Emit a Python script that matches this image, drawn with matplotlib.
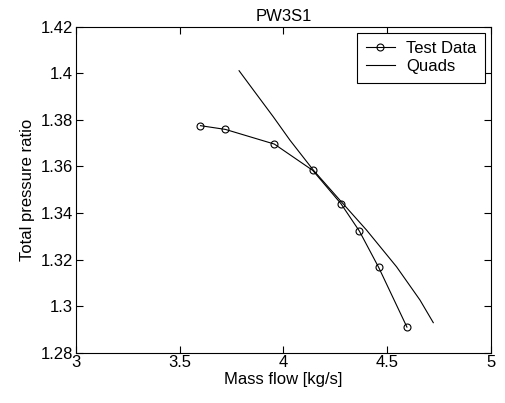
import matplotlib
matplotlib.use('Agg')
import matplotlib.pyplot as plt

plt.rcParams['font.family'] = ['Liberation Sans', 'DejaVu Sans']

# Dados
test_flow = [3.60, 3.72, 3.956, 4.141, 4.277, 4.366, 4.459, 4.595]
test_pr = [1.3775, 1.3759, 1.3696, 1.3583, 1.3440, 1.3322, 1.3166, 1.2910]

quad_flow = [3.786, 3.855, 3.951, 4.031, 4.144, 4.272, 4.400, 4.545, 4.658, 4.722]
quad_pr = [1.4011, 1.3928, 1.3813, 1.3713, 1.3584, 1.3455, 1.3327, 1.3169, 1.3026, 1.2929]

xticks = [3, 3.5, 4, 4.5, 5]
yticks = [1.28, 1.3, 1.32, 1.34, 1.36, 1.38, 1.4, 1.42]

fig = plt.figure(figsize=(5.05, 4.03), dpi=100)
ax = fig.add_axes([0.1505, 0.1248, 0.8217, 0.8089])

ax.plot(test_flow, test_pr, color='black', linewidth=0.8, marker='o',
        markersize=5, markerfacecolor='none', markeredgewidth=0.8, label='Test Data')
ax.plot(quad_flow, quad_pr, color='black', linewidth=0.8, label='Quads')

ax.set_xlim(3, 5)
ax.set_ylim(1.28, 1.42)
ax.set_xticks(xticks)
ax.set_xticklabels(['3', '3.5', '4', '4.5', '5'])
ax.set_yticks(yticks)
ax.set_yticklabels(['1.28', '1.3', '1.32', '1.34', '1.36', '1.38', '1.4', '1.42'])
ax.tick_params(direction='in', length=5, width=0.8, top=True, right=True,
               labelsize=12, pad=2)
for s in ax.spines.values():
    s.set_linewidth(0.8)

ax.set_xlabel('Mass flow [kg/s]', fontsize=12, labelpad=1)
ax.set_ylabel('Total pressure ratio', fontsize=12, labelpad=4)
ax.set_title('PW3S1', fontsize=12, pad=4)

leg = ax.legend(loc='upper right', fontsize=12, fancybox=False, framealpha=1,
                edgecolor='black', borderaxespad=0.35, handlelength=1.75,
                handletextpad=0.7, labelspacing=0.2, borderpad=0.5)
leg.get_frame().set_linewidth(0.8)

fig.savefig('out.png', dpi=100)
